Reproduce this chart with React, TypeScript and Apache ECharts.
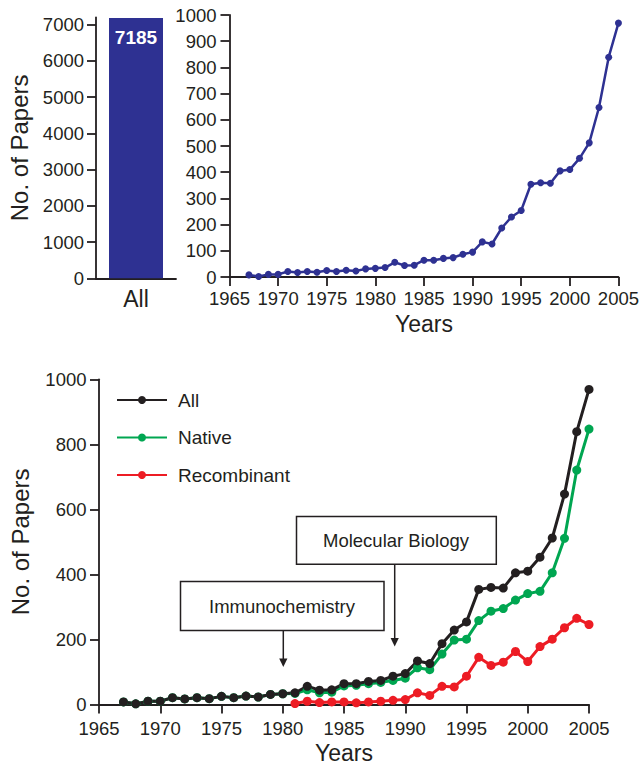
import React, { useEffect, useRef } from "react";
import * as echarts from "echarts";

// ---------- data ----------
const years: number[] = [
  1967, 1968, 1969, 1970, 1971, 1972, 1973, 1974, 1975, 1976, 1977, 1978, 1979,
  1980, 1981, 1982, 1983, 1984, 1985, 1986, 1987, 1988, 1989, 1990, 1991, 1992,
  1993, 1994, 1995, 1996, 1997, 1998, 1999, 2000, 2001, 2002, 2003, 2004, 2005,
];
const allPapers: number[] = [
  8, 2, 10, 10, 21, 17, 21, 18, 25, 21, 26, 23, 31, 33, 36, 56, 44, 45, 64, 64,
  71, 74, 87, 95, 134, 126, 187, 229, 254, 354, 360, 358, 405, 410, 453, 512,
  647, 839, 969,
];
const nativePapers: number[] = [
  8, 2, 10, 10, 21, 17, 21, 18, 25, 21, 26, 23, 31, 33, 34, 45, 36, 38, 57, 59,
  64, 68, 74, 81, 113, 107, 155, 198, 201, 258, 287, 295, 321, 341, 348, 405,
  511, 721, 847,
];
const recombinantPapers: (number | null)[] = [
  null, null, null, null, null, null, null, null, null, null, null, null, null,
  null, 3, 10, 6, 8, 8, 5, 8, 10, 13, 15, 36, 28, 56, 54, 87, 145, 120, 130,
  163, 132, 178, 201, 236, 265, 246,
];
const totalCategories: string[] = ["All"];
const totalPapers: number[] = [7185];
const barYTicks: number[] = [0, 1000, 2000, 3000, 4000, 5000, 6000, 7000];
const legendNames: string[] = ["All", "Native", "Recombinant"];
const annotations = [
  { label: "Immunochemistry" },
  { label: "Molecular Biology" },
];

// ---------- styles ----------
const FONT = "'Liberation Sans', Arial, Helvetica, sans-serif";
const INK = "#231F20";
const NAVY = "#2E3192";
const GREEN = "#00A651";
const RED = "#ED1C24";

const pairs = (xs: number[], ys: (number | null)[]) =>
  xs.map((x, i) => [x, ys[i]]);

const plain = (v: number) => String(v);
const axisLine = { show: true, lineStyle: { color: INK, width: 1.8 } };
const axisTick = { show: true, length: 9, lineStyle: { color: INK, width: 1.8 } };
const lbl = (margin: number, size = 18) => ({
  color: INK,
  fontFamily: FONT,
  fontSize: size,
  margin,
  formatter: plain,
});

export default function App() {
  const ref = useRef<HTMLDivElement>(null);

  useEffect(() => {
    if (!ref.current) return;
    const chart = echarts.init(ref.current, undefined, { renderer: "svg" });

    const option: any = {
      animation: false,
      backgroundColor: "#ffffff",
      textStyle: { fontFamily: FONT, color: INK },
      grid: [
        { left: 96, top: 17.4, width: 80, height: 260.9 },
        { left: 229.5, top: 15, width: 390.5, height: 262 },
        { left: 97.5, top: 379.3, width: 491.5, height: 327.4 },
      ],
      xAxis: [
        {
          gridIndex: 0,
          type: "category",
          data: totalCategories,
          axisLine,
          axisTick: { show: false },
          axisLabel: { color: INK, fontFamily: FONT, fontSize: 23, margin: 9.5 },
          splitLine: { show: false },
        },
        {
          gridIndex: 1,
          type: "value",
          min: 1965,
          max: 2005,
          interval: 5,
          axisLine,
          axisTick,
          axisLabel: lbl(12, 18.5),
          splitLine: { show: false },
          name: "Years",
          nameLocation: "middle",
          nameGap: 35,
          nameTextStyle: { fontSize: 23, color: INK, fontFamily: FONT },
        },
        {
          gridIndex: 2,
          type: "value",
          min: 1965,
          max: 2005,
          interval: 5,
          axisLine,
          axisTick,
          axisLabel: lbl(14, 18.5),
          splitLine: { show: false },
          name: "Years",
          nameLocation: "middle",
          nameGap: 36.5,
          nameTextStyle: { fontSize: 23, color: INK, fontFamily: FONT },
        },
      ],
      yAxis: [
        {
          gridIndex: 0,
          type: "value",
          min: 0,
          max: 7200,
          axisLine,
          axisTick: { ...axisTick, customValues: barYTicks },
          axisLabel: { ...lbl(12, 18.5), customValues: barYTicks },
          splitLine: { show: false },
          name: "No. of Papers",
          nameLocation: "middle",
          nameGap: 65,
          nameTextStyle: { fontSize: 24, color: INK, fontFamily: FONT },
        },
        {
          gridIndex: 1,
          type: "value",
          min: 0,
          max: 1000,
          interval: 100,
          axisLine,
          axisTick,
          axisLabel: lbl(13, 18.5),
          splitLine: { show: false },
        },
        {
          gridIndex: 2,
          type: "value",
          min: 0,
          max: 1000,
          interval: 200,
          axisLine,
          axisTick,
          axisLabel: lbl(12.5, 18.5),
          splitLine: { show: false },
          name: "No. of Papers",
          nameLocation: "middle",
          nameGap: 67,
          nameTextStyle: { fontSize: 24, color: INK, fontFamily: FONT },
        },
      ],
      legend: {
        data: legendNames,
        orient: "vertical",
        left: 116,
        top: 390.5,
        padding: 0,
        itemWidth: 50,
        itemHeight: 10,
        itemGap: 18.5,
        textStyle: {
          fontSize: 19,
          color: INK,
          fontFamily: FONT,
          padding: [0, 0, 0, 6],
        },
      },
      series: [
        {
          name: "Total",
          type: "bar",
          xAxisIndex: 0,
          yAxisIndex: 0,
          data: totalPapers,
          barWidth: 54,
          itemStyle: { color: NAVY },
          label: {
            show: true,
            position: "insideTop",
            distance: 10,
            color: "#ffffff",
            fontWeight: "bold",
            fontSize: 19,
            fontFamily: FONT,
          },
        },
        {
          name: "All papers",
          type: "line",
          xAxisIndex: 1,
          yAxisIndex: 1,
          data: pairs(years, allPapers),
          symbol: "circle",
          symbolSize: 7,
          color: NAVY,
          lineStyle: { width: 2.5, color: NAVY },
          itemStyle: { color: NAVY },
        },
        {
          name: "Native",
          type: "line",
          xAxisIndex: 2,
          yAxisIndex: 2,
          data: pairs(years, nativePapers),
          symbol: "circle",
          symbolSize: 9,
          color: GREEN,
          lineStyle: { width: 3, color: GREEN },
          itemStyle: { color: GREEN },
        },
        {
          name: "Recombinant",
          type: "line",
          xAxisIndex: 2,
          yAxisIndex: 2,
          data: pairs(years, recombinantPapers),
          symbol: "circle",
          symbolSize: 9,
          color: RED,
          lineStyle: { width: 3, color: RED },
          itemStyle: { color: RED },
        },
        {
          name: "All",
          type: "line",
          xAxisIndex: 2,
          yAxisIndex: 2,
          data: pairs(years, allPapers),
          symbol: "circle",
          symbolSize: 9,
          color: INK,
          lineStyle: { width: 3, color: INK },
          itemStyle: { color: INK },
        },
      ],
      graphic: [
        {
          type: "rect",
          shape: { x: 180.5, y: 581.5, width: 203.5, height: 49 },
          style: { fill: "#ffffff", stroke: INK, lineWidth: 1.5 },
        },
        {
          type: "text",
          x: 282,
          y: 606,
          style: {
            text: annotations[0].label,
            fill: INK,
            fontSize: 18.5,
            fontFamily: FONT,
            align: "center",
            verticalAlign: "middle",
          },
        },
        {
          type: "line",
          shape: { x1: 283.3, y1: 631, x2: 283.3, y2: 660 },
          style: { stroke: INK, lineWidth: 1.5 },
        },
        {
          type: "polygon",
          shape: { points: [[279.2, 658.5], [287.4, 658.5], [283.3, 667]] },
          style: { fill: INK },
        },
        {
          type: "rect",
          shape: { x: 296.5, y: 516.5, width: 199.8, height: 47.8 },
          style: { fill: "#ffffff", stroke: INK, lineWidth: 1.5 },
        },
        {
          type: "text",
          x: 396,
          y: 540,
          style: {
            text: annotations[1].label,
            fill: INK,
            fontSize: 18.5,
            fontFamily: FONT,
            align: "center",
            verticalAlign: "middle",
          },
        },
        {
          type: "line",
          shape: { x1: 394.7, y1: 564.3, x2: 394.7, y2: 639 },
          style: { stroke: INK, lineWidth: 1.5 },
        },
        {
          type: "polygon",
          shape: { points: [[390.6, 638], [398.8, 638], [394.7, 646.5]] },
          style: { fill: INK },
        },
      ],
    };

    chart.setOption(option);
    return () => chart.dispose();
  }, []);

  return (
    <div
      ref={ref}
      style={{
        position: "fixed",
        left: 0,
        top: 0,
        width: 642,
        height: 765,
        background: "#ffffff",
      }}
    />
  );
}
